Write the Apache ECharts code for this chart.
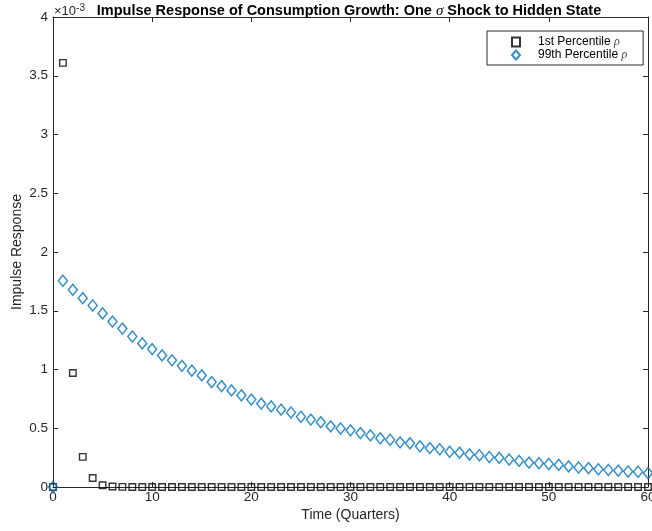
<!DOCTYPE html>
<html lang="en">
<head>
    <meta charset="UTF-8">
    <title>Impulse Response of Consumption Growth</title>
    <script src="https://cdn.jsdelivr.net/npm/echarts@6/dist/echarts.min.js"></script>
    <style type="text/css">
        *{margin:0;padding:0;}
        html,body{background:#fff;}
        #main{width:652px;height:531px;}
    </style>
</head>
<body>
<div id="main"></div>

<script type="text/javascript">
    // quarters 0..60
    var quarters = [];
    for (var i = 0; i <= 60; i++) quarters.push(i);

    // values in units of 1e-3 (axis shows x10^-3)
    var p1Values = [0, 3.61, 0.97, 0.256, 0.077, 0.015, 0.004, 0.001, 0, 0,
        0, 0, 0, 0, 0, 0, 0, 0, 0, 0,
        0, 0, 0, 0, 0, 0, 0, 0, 0, 0,
        0, 0, 0, 0, 0, 0, 0, 0, 0, 0,
        0, 0, 0, 0, 0, 0, 0, 0, 0, 0,
        0, 0, 0, 0, 0, 0, 0, 0, 0, 0, 0];

    var p99Values = [0, 1.755, 1.678, 1.607, 1.545, 1.477, 1.408, 1.348, 1.281, 1.222,
        1.174, 1.120, 1.078, 1.031, 0.990, 0.950, 0.893, 0.858, 0.822, 0.780,
        0.744, 0.710, 0.686, 0.658, 0.634, 0.598, 0.574, 0.552, 0.516, 0.498,
        0.482, 0.459, 0.439, 0.414, 0.402, 0.380, 0.372, 0.346, 0.331, 0.321,
        0.300, 0.292, 0.277, 0.270, 0.255, 0.248, 0.234, 0.222, 0.208, 0.203,
        0.196, 0.188, 0.175, 0.166, 0.160, 0.151, 0.145, 0.139, 0.132, 0.130, 0.118];

    var xTicks = [0, 10, 20, 30, 40, 50, 60];
    var yTicks = [0, 0.5, 1, 1.5, 2, 2.5, 3, 3.5, 4];

    function pairs(xs, ys) {
        var out = [];
        for (var i = 0; i < xs.length; i++) out.push([xs[i], ys[i]]);
        return out;
    }

    var FONT = "'Liberation Sans', Arial, Helvetica, sans-serif";
    var AX = '#262626';

    var myChart = echarts.init(document.getElementById('main'), null, {renderer: 'canvas'});

    var baseX = {
        type: 'value',
        min: xTicks[0],
        max: xTicks[xTicks.length - 1],
        interval: 10,
        splitLine: {show: false},
        axisLine: {show: true, onZero: false, lineStyle: {color: AX, width: 1}},
        axisTick: {show: true, inside: true, length: 5, lineStyle: {color: AX}}
    };
    var baseY = {
        type: 'value',
        min: yTicks[0],
        max: yTicks[yTicks.length - 1],
        interval: 0.5,
        splitLine: {show: false},
        axisLine: {show: true, onZero: false, lineStyle: {color: AX, width: 1}},
        axisTick: {show: true, inside: true, length: 5, lineStyle: {color: AX}}
    };

    var option = {
        backgroundColor: '#ffffff',
        animation: false,
        textStyle: {fontFamily: FONT},
        title: {
            text: 'Impulse Response of Consumption Growth: One {s|σ} Shock to Hidden State',
            left: 349,
            textAlign: 'center',
            top: 3,
            padding: 0,
            textStyle: {
                fontFamily: FONT,
                fontSize: 14.5,
                lineHeight: 16,
                fontWeight: 'bold',
                color: '#000',
                rich: {
                    s: {fontFamily: "'Liberation Serif', serif", fontStyle: 'italic', fontWeight: 'normal', fontSize: 15, lineHeight: 16, color: '#000'}
                }
            }
        },
        grid: {left: 53, right: 4, top: 17, bottom: 44, containLabel: false, outerBoundsMode: 'none'},
        legend: {
            orient: 'vertical',
            left: 487,
            top: 31,
            padding: [5, 16, 4, 24],
            itemGap: 1,
            itemWidth: 8,
            itemHeight: 9,
            borderColor: AX,
            borderWidth: 1,
            backgroundColor: '#fff',
            borderRadius: 0,
            data: ['1st Percentile', '99th Percentile'],
            formatter: function (name) { return name + ' {r|ρ}'; },
            textStyle: {
                fontFamily: FONT,
                fontSize: 12,
                lineHeight: 11,
                color: '#000',
                padding: [0, 0, 0, 13],
                rich: {
                    r: {fontFamily: "'Liberation Serif', serif", fontStyle: 'italic', fontSize: 12, lineHeight: 11, color: '#444'}
                }
            }
        },
        graphic: [{
            type: 'text',
            left: 54,
            top: 3,
            style: {
                text: '×10{sup|-3}',
                font: '13px ' + FONT,
                fill: AX,
                rich: {
                    sup: {fontSize: 10, fontFamily: FONT, fill: AX, verticalAlign: 'top', padding: [0, 0, 7, 0]}
                }
            }
        }],
        xAxis: [
            Object.assign({}, baseX, {
                position: 'bottom',
                name: 'Time (Quarters)',
                nameLocation: 'middle',
                nameGap: 21,
                nameMoveOverlap: false,
                nameTextStyle: {fontFamily: FONT, fontSize: 14, color: AX},
                axisLabel: {margin: 3, fontFamily: FONT, fontSize: 13.5, color: AX}
            }),
            Object.assign({}, baseX, {
                position: 'top',
                axisLabel: {show: false}
            })
        ],
        yAxis: [
            Object.assign({}, baseY, {
                position: 'left',
                name: 'Impulse Response',
                nameLocation: 'middle',
                nameGap: 29,
                nameMoveOverlap: false,
                nameTextStyle: {fontFamily: FONT, fontSize: 14, color: AX},
                axisLabel: {margin: 5, fontFamily: FONT, fontSize: 13.5, color: AX}
            }),
            Object.assign({}, baseY, {
                position: 'right',
                axisLabel: {show: false}
            })
        ],
        series: [{
            name: '1st Percentile',
            type: 'scatter',
            symbol: 'rect',
            symbolSize: 6.5,
            itemStyle: {color: 'rgba(255,255,255,0)', borderColor: '#000', borderWidth: 1.4},
            data: pairs(quarters, p1Values)
        }, {
            name: '99th Percentile',
            type: 'scatter',
            symbol: 'diamond',
            symbolSize: [9, 11],
            itemStyle: {color: 'rgba(255,255,255,0)', borderColor: '#0072BD', borderWidth: 1.5},
            data: pairs(quarters, p99Values)
        }]
    };

    myChart.setOption(option);
</script>
</body>
</html>
